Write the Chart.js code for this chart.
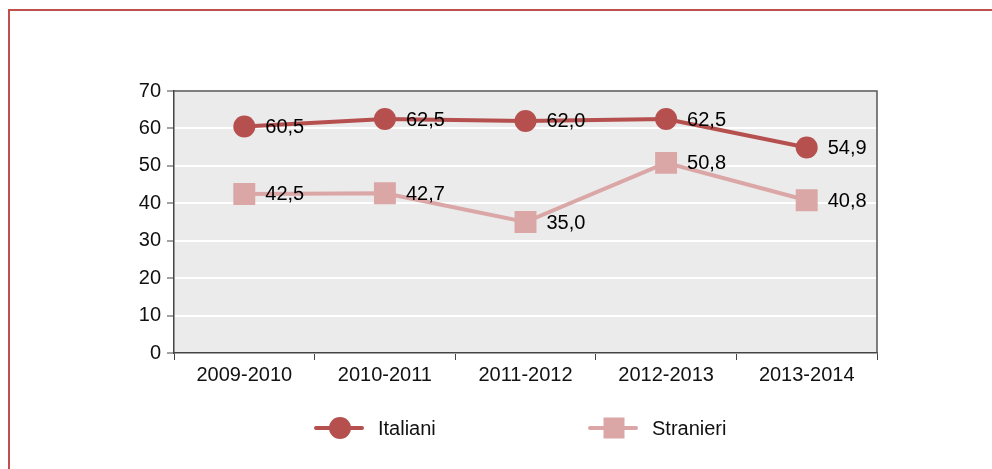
<!DOCTYPE html>
<html><head><meta charset="utf-8">
<script src="https://cdn.jsdelivr.net/npm/chart.js@4/dist/chart.umd.min.js"></script>
<style>html,body{margin:0;padding:0;background:#fff}#wrap{width:992px;height:469px;position:relative}</style>
</head><body><div id="wrap"><canvas id="c" width="992" height="469"></canvas></div>
<script>
const categories = ["2009-2010","2010-2011","2011-2012","2012-2013","2013-2014"];
const italiani = [60.5, 62.5, 62.0, 62.5, 54.9];
const stranieri = [42.5, 42.7, 35.0, 50.8, 40.8];
const seriesNames = ["Italiani","Stranieri"];
const yTicks = [0,10,20,30,40,50,60,70];

const C1 = '#b5504e', C2 = '#dba6a6';
const FONT = '"Liberation Sans", Arial, sans-serif';
const FS = 20;

const decor = {
  id:'decor',
  beforeDraw(chart){
    const {ctx, chartArea:a} = chart;
    ctx.save();
    ctx.fillStyle='#ebebeb';
    ctx.fillRect(a.left,a.top,a.right-a.left,a.bottom-a.top);
    ctx.restore();
  },
  afterDraw(chart){
    const {ctx, chartArea:a} = chart;
    ctx.save();
    ctx.strokeStyle='#555';
    ctx.lineWidth=1.5;
    ctx.beginPath();
    ctx.moveTo(a.left,a.top);ctx.lineTo(a.right,a.top);ctx.lineTo(a.right,a.bottom);
    ctx.stroke();
    ctx.strokeStyle='#c0504d';
    ctx.lineWidth=2;
    ctx.strokeRect(9,10,1100,1000);
    const ly = 428;
    const items = [{x:314, name:seriesNames[0], col:C1, style:'circle'},{x:588, name:seriesNames[1], col:C2, style:'rect'}];
    items.forEach(it=>{
      ctx.strokeStyle=it.col; ctx.lineWidth=4; ctx.lineCap='round';
      ctx.beginPath(); ctx.moveTo(it.x+2,ly); ctx.lineTo(it.x+48,ly); ctx.stroke();
      ctx.fillStyle=it.col;
      const cx = it.x+26;
      if(it.style==='circle'){ctx.beginPath();ctx.arc(cx,ly,11,0,Math.PI*2);ctx.fill();}
      else {ctx.fillRect(cx-10.5,ly-10.5,21,21);}
      ctx.fillStyle='#111'; ctx.font=FS+'px '+FONT; ctx.textBaseline='middle'; ctx.textAlign='left';
      ctx.fillText(it.name, it.x+64, ly+1);
    });
    ctx.fillStyle='#000'; ctx.font=FS+'px '+FONT; ctx.textBaseline='middle'; ctx.textAlign='left';
    chart.data.datasets.forEach((ds,i)=>{
      const meta = chart.getDatasetMeta(i);
      meta.data.forEach((pt,j)=>{
        ctx.fillText(ds.data[j].toFixed(1).replace('.',','), pt.x+21, pt.y+1);
      });
    });
    ctx.restore();
  }
};

new Chart(document.getElementById('c'),{
  type:'line',
  data:{labels:categories,datasets:[
    {label:seriesNames[0],data:italiani,borderColor:C1,backgroundColor:C1,borderWidth:4,pointStyle:'circle',pointRadius:11,pointHoverRadius:11,pointBorderWidth:0,tension:0},
    {label:seriesNames[1],data:stranieri,borderColor:C2,backgroundColor:C2,borderWidth:4,pointStyle:'rect',pointRadius:15.5,pointHoverRadius:15.5,pointBorderWidth:0,tension:0}
  ]},
  options:{
    responsive:false,animation:false,
    layout:{padding:{left:0,top:91,right:115,bottom:76}},
    plugins:{legend:{display:false},tooltip:{enabled:false}},
    scales:{
      x:{offset:true,
        grid:{offset:true,drawOnChartArea:false,tickLength:7,tickColor:'#444',tickWidth:1},
        border:{color:'#444',width:1.5},
        ticks:{color:'#111',font:{family:FONT,size:FS},padding:3,maxRotation:0},
        afterFit(s){s.height=40;}
      },
      y:{min:0,max:70,
        afterBuildTicks(s){s.ticks=yTicks.map(v=>({value:v}));},
        grid:{color:'#ffffff',lineWidth:2,tickLength:7,tickColor:'#444',tickWidth:1},
        border:{color:'#444',width:1.5},
        ticks:{color:'#111',font:{family:FONT,size:FS},padding:6},
        afterFit(s){s.width=174;}
      }
    }
  },
  plugins:[decor]
});
</script></body></html>
